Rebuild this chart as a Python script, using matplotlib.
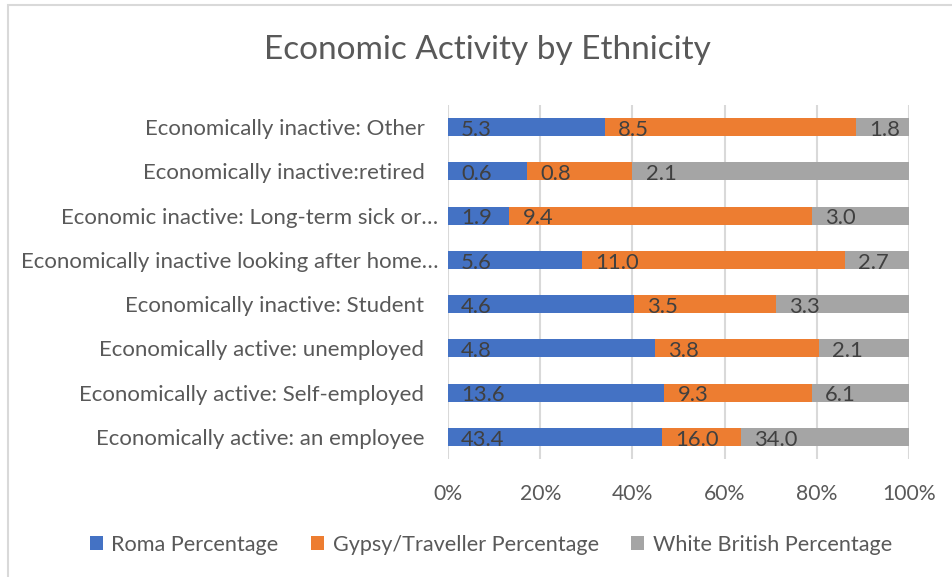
import numpy as np
import matplotlib
matplotlib.use("Agg")
import matplotlib.pyplot as plt
from matplotlib.patches import Rectangle
from matplotlib.transforms import ScaledTranslation

plt.rcParams['font.family'] = ['Lato', 'DejaVu Sans']

# categories listed bottom to top
categories = [
    "Economically active: an employee",
    "Economically active: Self-employed",
    "Economically active: unemployed",
    "Economically inactive: Student",
    "Economically inactive looking after home\u2026",
    "Economic inactive: Long-term sick or\u2026",
    "Economically inactive:retired",
    "Economically inactive: Other",
]
roma = [43.4, 13.6, 4.8, 4.6, 5.6, 1.9, 0.6, 5.3]
gypsy = [16.0, 9.3, 3.8, 3.5, 11.0, 9.4, 0.8, 8.5]
white = [34.0, 6.1, 2.1, 3.3, 2.7, 3.0, 2.1, 1.8]
series_names = ["Roma Percentage", "Gypsy/Traveller Percentage", "White British Percentage"]
colors = ["#4472C4", "#ED7D31", "#A5A5A5"]
xticks = [0, 20, 40, 60, 80, 100]

W, H = 952, 577
fig = plt.figure(figsize=(W / 100, H / 100), dpi=100)
ax = fig.add_axes([448 / W, 1 - 459 / H, (909 - 448) / W, (459 - 105) / H])

raw = np.array([roma, gypsy, white])
share = raw / raw.sum(axis=0) * 100
y = np.arange(len(categories))
left = np.zeros(len(categories))
bars = []
for vals, pct, name, c in zip(raw, share, series_names, colors):
    b = ax.barh(y, pct, left=left, height=0.41, color=c, label=name, zorder=2)
    bars.append(b)
    # value labels sit at the base of each segment
    for yi, l, v in zip(y, left, vals):
        ax.annotate(f"{v:.1f}", xy=(l, yi), xytext=(9.5, -2), textcoords="offset points",
                    ha="left", va="center", fontsize=15.8, color="#404040", zorder=3)
    left = left + pct

ax.set_xlim(0, 100)
ax.set_ylim(-0.5, len(categories) - 0.5)
ax.set_xticks(xticks)
ax.set_xticklabels([f"{t}%" for t in xticks])
ax.set_yticks(y)
ax.set_yticklabels(categories, fontsize=16)
ax.tick_params(axis="both", length=0, labelcolor="#595959")
ax.tick_params(axis="x", labelsize=15.2, pad=18)
ax.tick_params(axis="y", pad=17)
for lbl in ax.get_yticklabels():
    if lbl.get_text().endswith("\u2026"):
        lbl.set_transform(lbl.get_transform() + ScaledTranslation(14 / 100, 0, fig.dpi_scale_trans))
ax.grid(axis="x", color="#D9D9D9", linewidth=1.5, zorder=0)
ax.set_axisbelow(True)
for s in ax.spines.values():
    s.set_visible(False)

fig.text(487 / W, 1 - 50 / H, "Economic Activity by Ethnicity", ha="center", va="center",
         fontsize=24, color="#595959")

fig.legend(handles=bars, labels=series_names, loc="center", bbox_to_anchor=(491 / W, 1 - 545 / H),
           ncol=3, frameon=False, fontsize=15.6, labelcolor="#595959",
           handlelength=0.6, handleheight=0.6, handletextpad=0.4, columnspacing=1.5)

# chart border
fig.patches.append(Rectangle((8 / W, -0.1), 1.1, 1 - 5 / H + 0.1, transform=fig.transFigure,
                             fill=False, edgecolor="#D9D9D9", linewidth=1.5))

fig.savefig("out.png", dpi=100)
